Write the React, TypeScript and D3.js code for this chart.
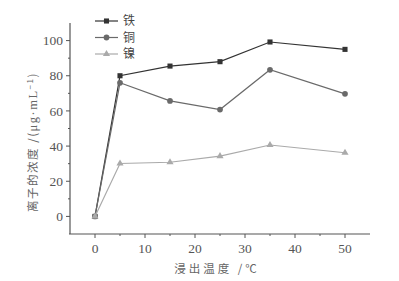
import React from 'react';
import * as d3 from 'd3';

const temps = [0, 5, 15, 25, 35, 50];
const ironValues = [0, 80, 85.5, 88, 99.2, 95];
const copperValues = [0, 76, 65.7, 60.8, 83.4, 69.7];
const nickelValues = [0, 30.1, 30.8, 34.3, 40.6, 36.2];
const xTicks = [0, 10, 20, 30, 40, 50];
const yTicks = [0, 20, 40, 60, 80, 100];
const seriesNames = ['铁', '铜', '镍'];

const W = 399;
const H = 281;
const margin = { top: 23, right: 29, bottom: 47, left: 70 };

const App = () => {
  const innerW = W - margin.left - margin.right;
  const innerH = H - margin.top - margin.bottom;

  const x = d3.scaleLinear().domain([-5, 55]).range([0, innerW]);
  const y = d3.scaleLinear().domain([-10, 110]).range([innerH, 0]);

  const series = [
    { name: seriesNames[0], values: ironValues, color: '#333', marker: 'square' },
    { name: seriesNames[1], values: copperValues, color: '#6a6a6a', marker: 'circle' },
    { name: seriesNames[2], values: nickelValues, color: '#aaa', marker: 'triangle' },
  ];

  const line = d3.line<number>()
    .x((_, i) => x(temps[i]))
    .y(d => y(d));

  const symbolFor = (m: string) =>
    m === 'square' ? d3.symbolSquare : m === 'circle' ? d3.symbolCircle : d3.symbolTriangle;

  const marker = (m: string, cx: number, cy: number, color: string, key: any) => (
    <path
      key={key}
      d={d3.symbol().type(symbolFor(m)).size(m === 'triangle' ? 22 : 26)() as string}
      transform={`translate(${cx},${cy})`}
      fill={color}
    />
  );

  const xMinor = d3.range(-5, 56, 5).filter(v => v % 10 !== 0 && v > -5 && v < 55);
  const yMinor = d3.range(-10, 111, 10).filter(v => v % 20 !== 0 && v > -10 && v < 110);

  const axisColor = '#555';
  const tickFont = '"Liberation Serif", "Times New Roman", serif';

  return (
    <svg width={W} height={H} style={{ position: 'absolute', left: 0, top: 0 }}>
      <rect width={W} height={H} fill="#fff" />
      <g transform={`translate(${margin.left},${margin.top})`}>
        {/* axes */}
        <line x1={0} x2={0} y1={0} y2={innerH} stroke={axisColor} strokeWidth={1.2} />
        <line x1={-1} x2={innerW} y1={innerH} y2={innerH} stroke={axisColor} strokeWidth={1.2} />
        {yTicks.map(t => (
          <g key={'y' + t} transform={`translate(0,${y(t)})`}>
            <line x1={-4} x2={0} stroke={axisColor} />
            <text x={-7} dy="0.35em" textAnchor="end" fontSize={13.5} fill="#555" style={{ fontFamily: tickFont }}>{t}</text>
          </g>
        ))}
        {yMinor.map(t => (
          <line key={'ym' + t} x1={-2} x2={0} y1={y(t)} y2={y(t)} stroke={axisColor} />
        ))}
        {xTicks.map(t => (
          <g key={'x' + t} transform={`translate(${x(t)},${innerH})`}>
            <line y1={0} y2={4} stroke={axisColor} />
            <text y={19} textAnchor="middle" fontSize={13.5} fill="#555" style={{ fontFamily: tickFont }}>{t}</text>
          </g>
        ))}
        {xMinor.map(t => (
          <line key={'xm' + t} x1={x(t)} x2={x(t)} y1={innerH} y2={innerH + 2} stroke={axisColor} />
        ))}

        {/* series lines and markers */}
        {series.map(s => (
          <g key={s.name}>
            <path d={line(s.values) as string} fill="none" stroke={s.color} strokeWidth={1.2} />
            {s.values.map((v, i) => marker(s.marker, x(temps[i]), y(v), s.color, i))}
          </g>
        ))}

        {/* legend */}
        {series.map((s, i) => {
          const ly = -2 + i * 16.5;
          return (
            <g key={'lg' + s.name} transform={`translate(25,${ly})`}>
              <line x1={0} x2={23} stroke={s.color} strokeWidth={1.2} />
              {marker(s.marker, 11.5, 0, s.color, 'm')}
              <text x={28} dy="0.35em" fontSize={12} fill="#444" fontFamily='"Noto Sans CJK SC", sans-serif'>{s.name}</text>
            </g>
          );
        })}
      </g>

      {/* axis titles */}
      <text
        transform={`translate(37,142) rotate(-90)`}
        textAnchor="middle"
        fontSize={11.5}
        letterSpacing={1.5}
        fill="#666"
        fontFamily='"Noto Sans CJK SC", serif'
      >
        离子的浓度 /(<tspan style={{ fontFamily: tickFont }} fontSize={12.5}>μg·mL</tspan><tspan dy={-4} fontSize={8}>−1</tspan><tspan dy={4}>)</tspan>
      </text>
      <text
        x={217}
        y={273}
        textAnchor="middle"
        fontSize={11.5}
        letterSpacing={3}
        fill="#666"
        fontFamily='"Noto Sans CJK SC", serif'
      >
        浸出温度 /℃
      </text>
    </svg>
  );
};

export default App;
